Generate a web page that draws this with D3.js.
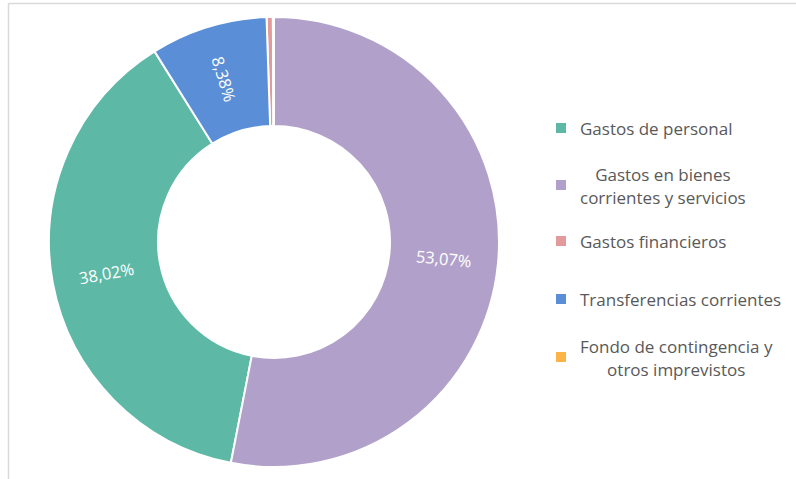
<!DOCTYPE html>
<html>
<head>
<meta charset="utf-8">
<script src="https://cdn.jsdelivr.net/npm/d3@7"></script>
<style>
  html, body { margin: 0; padding: 0; background: #fff; }
  #chart { width: 796px; height: 479px; }
</style>
</head>
<body>
<div id="chart"></div>
<script>
/* Donut chart of spending shares by budget chapter. */

var categories = [
  "Gastos de personal",
  "Gastos en bienes corrientes y servicios",
  "Gastos financieros",
  "Transferencias corrientes",
  "Fondo de contingencia y otros imprevistos"
];
var legendLines = [
  ["Gastos de personal"],
  ["Gastos en bienes", "corrientes y servicios"],
  ["Gastos financieros"],
  ["Transferencias corrientes"],
  ["Fondo de contingencia y", "otros imprevistos"]
];
var shares = [38.02, 53.07, 0.45, 8.38, 0.08];
// clockwise drawing order from 12 o'clock, as indices into categories
var drawOrder = [1, 0, 3, 2, 4];
var sliceColors = ["#5db9a6", "#b1a1ca", "#e39a9c", "#5a8ed6", "#fbb445"];

(function () {
  var d3 = window.d3;
  var el = document.getElementById("chart");
  var width = 796, height = 479;

  var svg = d3.select(el).append("svg")
    .attr("width", width).attr("height", height)
    .attr("viewBox", "0 0 " + width + " " + height)
    .style("font-family", "'Open Sans', 'Noto Sans', sans-serif");

  // frame lines (top and left visible)
  svg.append("line").attr("x1", 8.5).attr("y1", 3.5).attr("x2", width).attr("y2", 3.5)
    .attr("stroke", "#d9d9d9").attr("stroke-width", 1.5);
  svg.append("line").attr("x1", 8.5).attr("y1", 3.5).attr("x2", 8.5).attr("y2", height)
    .attr("stroke", "#d9d9d9").attr("stroke-width", 1.5);

  var data = categories.map(function (c, i) { return { name: c, value: shares[i], idx: i }; });

  var cx = 274, cy = 242;
  var outer = 225, inner = 116;

  var pie = d3.pie()
    .value(function (d) { return d.value; })
    .sort(function (a, b) { return drawOrder.indexOf(a.idx) - drawOrder.indexOf(b.idx); });

  var arc = d3.arc().innerRadius(inner).outerRadius(outer);
  var arcs = pie(data);

  var g = svg.append("g").attr("transform", "translate(" + cx + "," + cy + ")");

  g.selectAll("path").data(arcs).enter().append("path")
    .attr("d", arc)
    .attr("fill", function (d) { return sliceColors[d.data.idx]; })
    .attr("stroke", "#fff")
    .attr("stroke-width", 2);

  var fmt = function (v) { return v.toFixed(2).replace(".", ",") + "%"; };

  g.selectAll("text.lbl").data(arcs.filter(function (d) { return d.data.value > 1; }))
    .enter().append("text")
    .attr("class", "lbl")
    .attr("text-anchor", "middle")
    .attr("dominant-baseline", "central")
    .attr("fill", "#fff")
    .attr("font-size", 16.5)
    .attr("transform", function (d) {
      var c = arc.centroid(d);
      var mid = (d.startAngle + d.endAngle) / 2 * 180 / Math.PI;
      var rot = mid < 180 ? mid - 90 : mid - 270;
      return "translate(" + c[0] + "," + c[1] + ") rotate(" + rot + ")";
    })
    .text(function (d) { return fmt(d.data.value); });

  // legend
  var legendY = [128, 185, 241, 299, 357];
  var swX = 556, textX = 580;
  var lg = svg.append("g");
  categories.forEach(function (c, i) {
    var y = legendY[i];
    lg.append("rect")
      .attr("x", swX).attr("y", y - 5)
      .attr("width", 10).attr("height", 10)
      .attr("fill", sliceColors[i]);
    var lines = legendLines[i];
    var t = lg.append("text")
      .attr("fill", "#595959")
      .attr("font-size", 17)
      .attr("dominant-baseline", "central");
    if (lines.length === 1) {
      t.append("tspan").attr("x", textX).attr("y", y).text(lines[0]);
    } else {
      t.attr("text-anchor", "middle");
      t.selectAll("tspan").data(lines).enter().append("tspan")
        .attr("y", function (_d, k) { return y - 11.5 + k * 23; })
        .text(function (d) { return d; });
      // center the block on its widest line, left-aligned at textX
      var widest = 0;
      t.selectAll("tspan").each(function () { widest = Math.max(widest, this.getComputedTextLength()); });
      t.selectAll("tspan").attr("x", textX + widest / 2);
    }
  });
})();
</script>
</body>
</html>
